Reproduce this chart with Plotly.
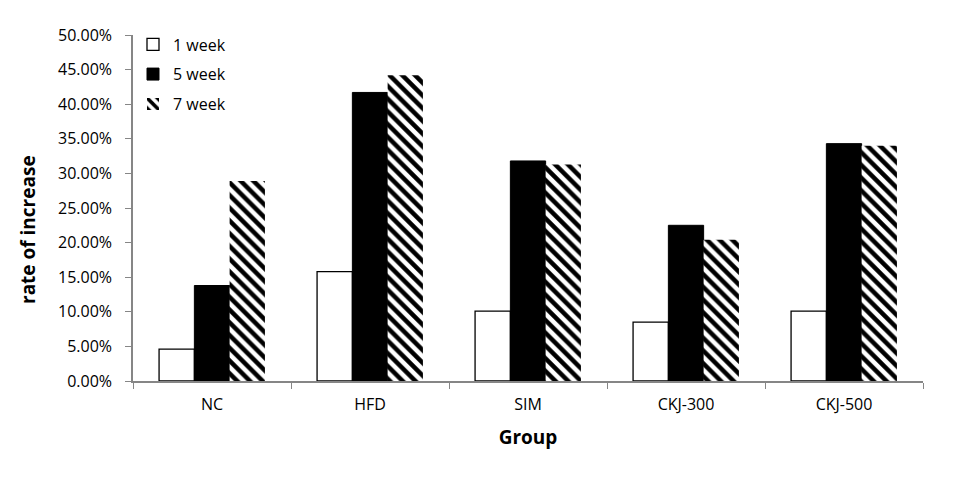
import plotly.graph_objects as go

groups = ["NC", "HFD", "SIM", "CKJ-300", "CKJ-500"]
series_names = ["1 week", "5 week", "7 week"]
week1 = [0.046, 0.158, 0.101, 0.085, 0.101]
week5 = [0.138, 0.417, 0.318, 0.225, 0.343]
week7 = [0.289, 0.442, 0.313, 0.204, 0.340]
y_ticks = [0.0, 0.05, 0.10, 0.15, 0.20, 0.25, 0.30, 0.35, 0.40, 0.45, 0.50]

FONT = "Open Sans"
AXIS_GRAY = "#868686"

fig = go.Figure()
fig.add_trace(go.Bar(
    name=series_names[0], x=groups, y=week1, legendgroup="a",
    marker=dict(color="white", line=dict(color="black", width=1.3)),
))
fig.add_trace(go.Bar(
    name=series_names[1], x=groups, y=week5, legendgroup="b",
    marker=dict(color="black", line=dict(color="black", width=1)),
))
fig.add_trace(go.Bar(
    name=series_names[2], x=groups, y=week7, legendgroup="c",
    marker=dict(color="white", line=dict(color="white", width=0),
                pattern=dict(shape="\\", fgcolor="black", bgcolor="white",
                             fgopacity=1, size=9, solidity=0.5,
                             fillmode="replace")),
))

# page body has an 8px margin; plot area in the window: x 133..923, y 35..381
fig.update_layout(
    width=954, height=476,
    margin=dict(l=125, r=39, t=27, b=103),
    plot_bgcolor="white", paper_bgcolor="white",
    barmode="group", bargap=0.33, bargroupgap=0,
    font=dict(family=FONT, size=16, color="black"),
    showlegend=True,
    legend=dict(x=0.0, y=1.022, xanchor="left", yanchor="top",
                bgcolor="rgba(0,0,0,0)", font=dict(size=16),
                tracegroupgap=6, itemwidth=30),
    xaxis=dict(
        type="category", showline=True, linecolor=AXIS_GRAY, linewidth=1.5,
        ticks="outside", tickson="boundaries", ticklen=6, tickcolor=AXIS_GRAY,
        tickwidth=1, tickfont=dict(size=16), showgrid=False,
        ticklabelstandoff=8,
        title=dict(text="Group", font=dict(size=19, weight="bold"), standoff=17),
    ),
    yaxis=dict(
        range=[0, 0.5], tickvals=y_ticks, tickformat=".2%",
        showline=True, linecolor=AXIS_GRAY, linewidth=1.5,
        ticks="outside", ticklen=6, tickcolor=AXIS_GRAY, tickwidth=1,
        ticklabelstandoff=10,
        showgrid=False, zeroline=False, tickfont=dict(size=16),
    ),
    annotations=[dict(
        text="rate of increase", textangle=-90, showarrow=False,
        xref="paper", yref="paper",
        x=-(133 - 28) / 790, y=(381 - 230) / 346,
        xanchor="center", yanchor="middle",
        font=dict(size=19, weight="bold"),
    )],
)

fig.write_html("out.html")
